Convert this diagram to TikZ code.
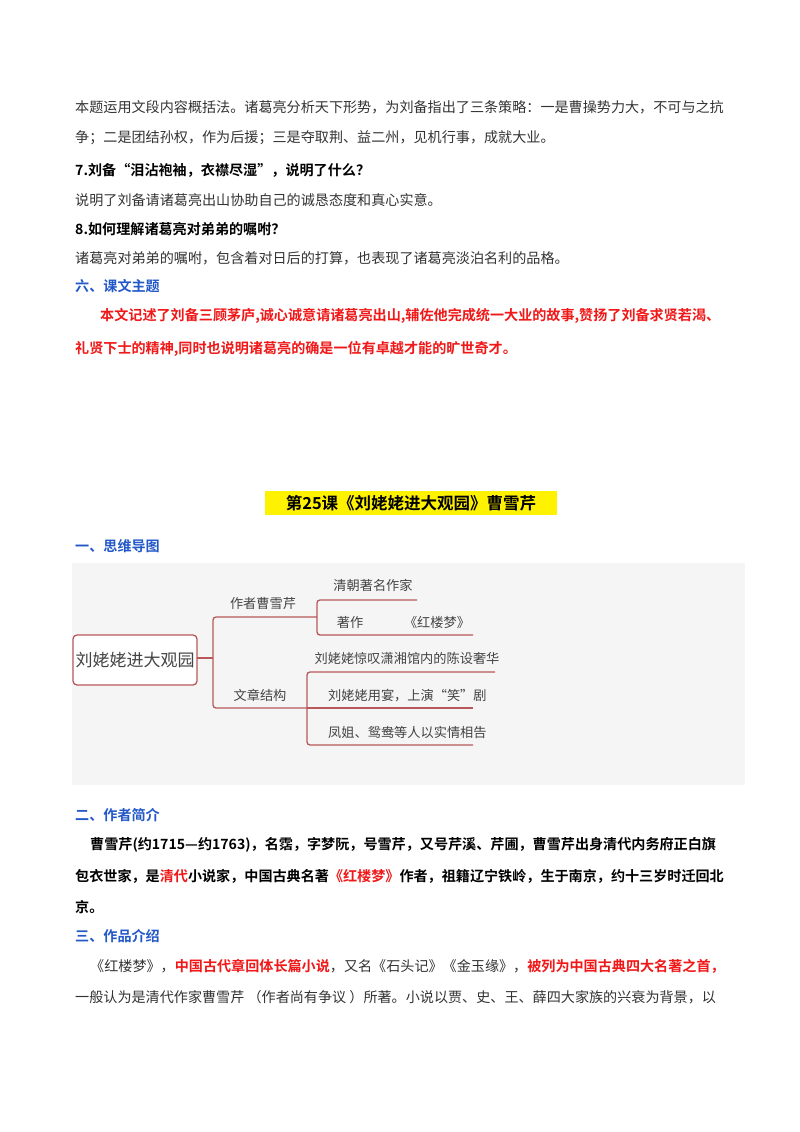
\documentclass[tikz,border=0pt]{standalone}
\usepackage{fontspec}
\setmainfont{Noto Sans CJK SC}
\newfontfamily\cjkb{Noto Sans CJK SC Bold}
\definecolor{hblue}{HTML}{2358C8}
\definecolor{tred}{HTML}{F01818}
\definecolor{mline}{HTML}{B9585A}
\definecolor{mtext}{HTML}{444444}
\definecolor{body}{HTML}{333333}
\tikzset{
  txt/.style={anchor=west,inner sep=0pt,font=\fontsize{14.1}{15}\selectfont,text=body},
  btxt/.style={anchor=west,inner sep=0pt,font=\fontsize{14.1}{15}\selectfont\cjkb,text=black},
  rtxt/.style={anchor=west,inner sep=0pt,font=\fontsize{14.1}{15}\selectfont\cjkb,text=tred},
  head/.style={anchor=west,inner sep=0pt,font=\fontsize{14.1}{15}\selectfont\cjkb,text=hblue},
  mm/.style={inner sep=0pt,font=\fontsize{13.2}{14}\selectfont,text=mtext},
  br/.style={draw=mline,line width=1.3pt,rounded corners=3pt},
}
\begin{document}
\begin{tikzpicture}[x=1pt,y=-1pt]
\useasboundingbox (0,0) rectangle (800,1132);
\fill[white] (0,0) rectangle (800,1132);
% top text
\node[txt] (l1) at (75,107) {本题运用文段内容概括法。诸葛亮分析天下形势，为刘备指出了三条策略：一是曹操势力大，不可与之抗};
\node[txt] (l2) at (75,138) {争；二是团结孙权，作为后援；三是夺取荆、益二州，见机行事，成就大业。};
\node[btxt] (q7) at (75,170) {7.刘备“泪沾袍袖，衣襟尽湿”，说明了什么？};
\node[txt] (a7) at (75,200) {说明了刘备请诸葛亮出山协助自己的诚恳态度和真心实意。};
\node[btxt] (q8) at (75,229) {8.如何理解诸葛亮对弟弟的嘱咐？};
\node[txt] (a8) at (75,258) {诸葛亮对弟弟的嘱咐，包含着对日后的打算，也表现了诸葛亮淡泊名利的品格。};
\node[head] (h6) at (75,286) {六、课文主题};
\node[rtxt] (t1) at (100,316) {本文记述了刘备三顾茅庐,诚心诚意请诸葛亮出山,辅佐他完成统一大业的故事,赞扬了刘备求贤若渴、};
\node[rtxt] (t2) at (75,349) {礼贤下士的精神,同时也说明诸葛亮的确是一位有卓越才能的旷世奇才。};
% title
\fill[yellow] (265,491) rectangle (557,515);
\node[inner sep=0pt,font=\fontsize{16.5}{17}\selectfont\cjkb] (title) at (411,503) {第25课《刘姥姥进大观园》曹雪芹};
\node[head] (h1) at (75,546) {一、思维导图};
% mind map
\fill[black!4] (72,563) rectangle (745,785);
\draw[mline,line width=1.3pt,rounded corners=4pt,fill=white] (73,635) rectangle (197,685);
\node[mm,font=\fontsize{17}{18}\selectfont] (root) at (135,660) {刘姥姥进大观园};
\draw[br] (197,658) -- (213,658);
\draw[br] (317,617) -- (213,617) -- (213,708) -- (307,708);
\node[mm] (b1) at (263,603) {作者曹雪芹};
\node[mm] (b2) at (260,695) {文章结构};
\draw[br] (417,600) -- (317,600) -- (317,635) -- (473,635);
\node[mm] (c1) at (373,585) {清朝著名作家};
\node[mm] (c2) at (350,622) {著作};
\node[mm] (c3) at (437,622) {《红楼梦》};
\draw[br] (495,672) -- (307,672) -- (307,745) -- (473,745);
\draw[br] (307,708) -- (473,708);
\node[mm] (d1) at (407,658) {刘姥姥惊叹潇湘馆内的陈设奢华};
\node[mm,anchor=west] (d2) at (328,696) {刘姥姥用宴，上演“笑”剧};
\node[mm,anchor=west] (d3) at (328,732) {凤姐、鸳鸯等人以实情相告};
% bottom text
\node[head] (h2) at (75,815) {二、作者简介};
\node[btxt] (p1) at (90,845) {曹雪芹(约1715—约1763)，名霑，字梦阮，号雪芹，又号芹溪、芹圃，曹雪芹出身清代内务府正白旗};
\node[btxt] (p2) at (75,876) {包衣世家，是\textcolor{tred}{清代}小说家，中国古典名著\textcolor{tred}{《红楼梦》}作者，祖籍辽宁铁岭，生于南京，约十三岁时迁回北};
\node[btxt] (p3) at (75,907) {京。};
\node[head] (h3) at (75,936) {三、作品介绍};
\node[txt] (r1) at (90,966) {《红楼梦》，{\cjkb\color{tred}中国古代章回体长篇小说}，又名《石头记》《金玉缘》，{\cjkb\color{tred}被列为中国古典四大名著之首，}};
\node[txt] (r2) at (75,997) {一般认为是清代作家曹雪芹 （作者尚有争议 ）所著。小说以贾、史、王、薛四大家族的兴衰为背景，以};
\end{tikzpicture}
\end{document}
